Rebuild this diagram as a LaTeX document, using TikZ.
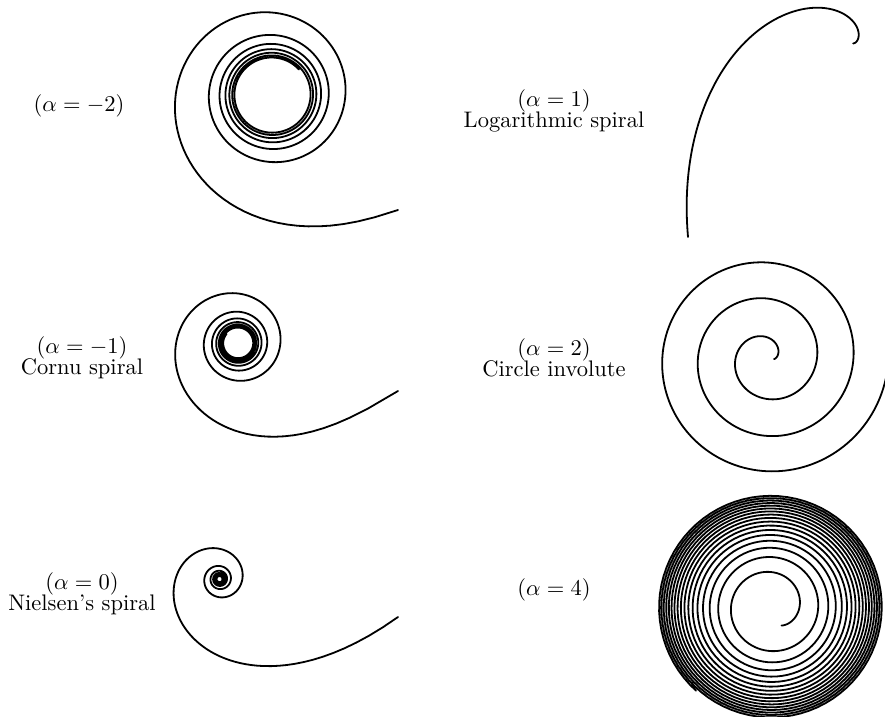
\documentclass[tikz,border=0pt]{standalone}
\usepackage{amsmath}
\tikzset{
  curve/.style={line width=0.8pt,line join=round,line cap=round},
  lbl/.style={align=center,font=\normalsize}
}

\begin{document}
\begin{tikzpicture}[x=0.4444pt,y=0.4444pt]
  \useasboundingbox (0,0) rectangle (885,-717);
  \clip (0,0) rectangle (885,-717);

  % alpha = -2
  \node[lbl] (lm2) at (79,-106) {$(\alpha=-2)$};
  \coordinate (sm2) at (398,-210);
  \draw[curve] (sm2) foreach \k in {1,...,700}
    { -- ++({199-3.43775*(\k-0.5)}:{7.68*pow(0.06*(\k-0.5),-1/3)}) };

  % alpha = -1
  \node[lbl] (lm1) at (82,-358) {$(\alpha=-1)$\\[-2.5pt]Cornu spiral};
  \coordinate (sm1) at (398,-391);
  \draw[curve] (sm1) foreach \k in {1,...,780}
    { -- ++({212-3.43775*(\k-0.5)}:{6.0*pow(0.06*(\k-0.5),-0.5)}) };

  % alpha = 0
  \node[lbl] (l0) at (82,-594) {$(\alpha=0)$\\[-2.5pt]Nielsen's spiral};
  \coordinate (s0) at (398,-617);
  \draw[curve] (s0) foreach \k in {1,...,993}
    { -- ++({215.6-2.86479*(\k-0.5)}:{6.9/(0.35+0.05*(\k-0.5))}) };

  % alpha = 1
  \node[lbl] (l1) at (554,-111) {$(\alpha=1)$\\[-2.5pt]Logarithmic spiral};
  \coordinate (s1) at (688,-237);
  \draw[curve] (s1) foreach \k in {1,...,240}
    { -- ++({95-1.14592*(\k-0.5)}:{7.2*exp(-0.02*(\k-0.5))}) };

  % alpha = 2
  \node[lbl] (l2) at (554,-358) {$(\alpha=2)$\\[-2.5pt]Circle involute};
  \coordinate (s2) at (774,-359);
  \draw[curve] (s2) foreach \k in {1,...,515}
    { -- ++({2.29183*(\k-0.5)}:{0.304*pow(0.04*(\k-0.5),0.92)}) };

  % alpha = 4
  \node[lbl] (l4) at (554,-590) {$(\alpha=4)$};
  \coordinate (s4) at (781.5,-625.5);
  \draw[curve] (s4) foreach \k in {1,...,1326}
    { -- ++({4.58366*(\k-0.5)}:{1.896*pow(0.08*(\k-0.5),1/3)}) };
\end{tikzpicture}
\end{document}
